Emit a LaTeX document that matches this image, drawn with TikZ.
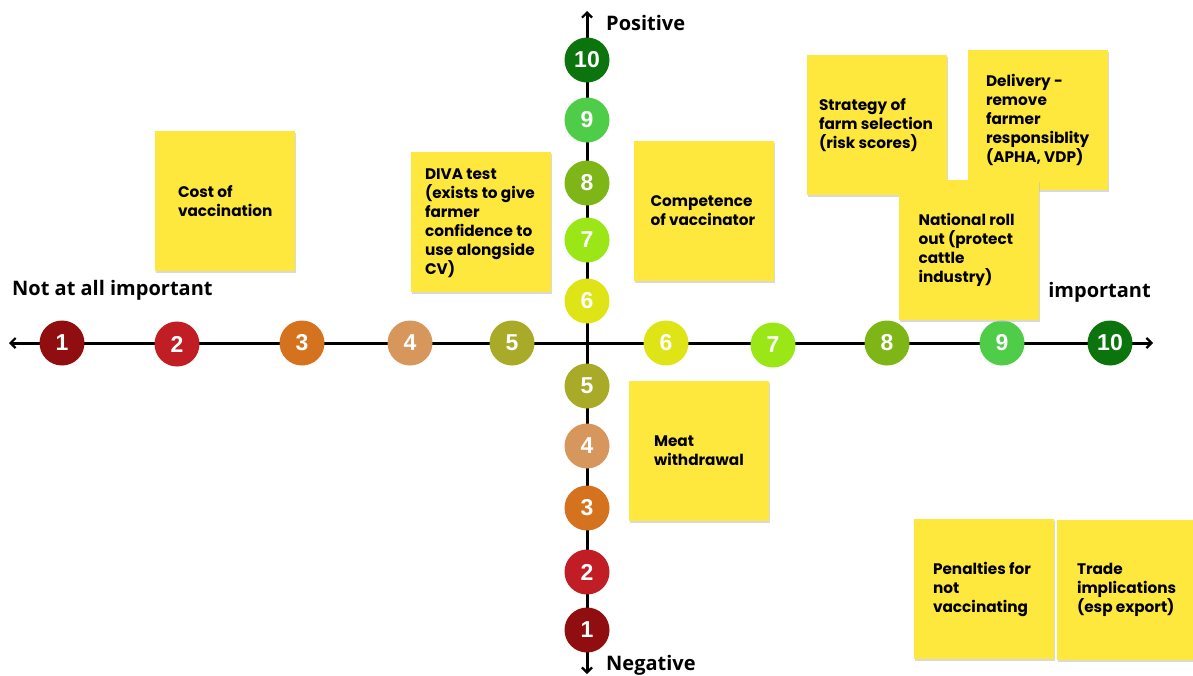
\documentclass[tikz,border=0pt]{standalone}
\usepackage{fontspec}
\setmainfont{Liberation Sans}
\newfontfamily\notefont{Poppins}
\newfontfamily\labfont{Open Sans}
\usetikzlibrary{arrows.meta,shadows}
\definecolor{c1}{RGB}{145,14,16}
\definecolor{c2}{RGB}{192,30,36}
\definecolor{c3}{RGB}{212,114,30}
\definecolor{c4}{RGB}{215,150,92}
\definecolor{c5}{RGB}{168,170,40}
\definecolor{c6}{RGB}{222,228,22}
\definecolor{c7}{RGB}{155,230,22}
\definecolor{c8}{RGB}{125,182,22}
\definecolor{c9}{RGB}{80,205,72}
\definecolor{c10}{RGB}{12,116,12}
\definecolor{notey}{RGB}{255,232,62}
\tikzset{
  axis/.style={line width=3pt,{Straight Barb[length=5pt,width=10pt,line width=2.2pt]}-{Straight Barb[length=5pt,width=10pt,line width=2.2pt]}},
  dot/.style={circle,minimum size=45pt,inner sep=0pt,text=white,font=\bfseries\fontsize{23}{23}\selectfont},
  note/.style={fill=notey,minimum width=140pt,minimum height=140pt,inner sep=0pt,
    drop shadow={shadow xshift=1pt,shadow yshift=-1.5pt,fill=black!25,opacity=0.6}},
  notetext/.style={anchor=west,inner sep=0pt,align=left,
    font=\notefont\bfseries\fontsize{15.3}{19}\selectfont},
  axlab/.style={font=\labfont\bfseries\fontsize{20}{22}\selectfont,inner sep=0pt}
}
\begin{document}
\begin{tikzpicture}[x=1pt,y=-1pt]
\useasboundingbox (0,0) rectangle (1193,675);
\coordinate (hl) at (9,343);
\coordinate (hr) at (1153,343);
\coordinate (vt) at (587,11);
\coordinate (vb) at (587,674);
\draw[axis] (hl) -- (hr);
\draw[axis] (vb) -- (vt);
% horizontal scale
\node[dot,fill=c1] (h1) at (62,343) {1};
\node[dot,fill=c2] (h2) at (177,344) {2};
\node[dot,fill=c3] (h3) at (302,343) {3};
\node[dot,fill=c4] (h4) at (410,343) {4};
\node[dot,fill=c5] (h5) at (512,343) {5};
\node[dot,fill=c6] (h6) at (666,343) {6};
\node[dot,fill=c7] (h7) at (773,345) {7};
\node[dot,fill=c8] (h8) at (887,343) {8};
\node[dot,fill=c9] (h9) at (1002,343) {9};
\node[dot,fill=c10] (h10) at (1110,343) {10};
% vertical scale
\node[dot,fill=c10] (v10) at (587,60) {10};
\node[dot,fill=c9] (v9) at (587,120) {9};
\node[dot,fill=c8] (v8) at (587,183) {8};
\node[dot,fill=c7] (v7) at (587,240) {7};
\node[dot,fill=c6] (v6) at (587,301) {6};
\node[dot,fill=c5] (v5) at (587,386) {5};
\node[dot,fill=c4] (v4) at (587,446) {4};
\node[dot,fill=c3] (v3) at (587,508) {3};
\node[dot,fill=c2] (v2) at (587,572) {2};
\node[dot,fill=c1] (v1) at (587,630) {1};
% axis labels
\node[axlab,anchor=west] (pos) at (606,23) {Positive};
\node[axlab,anchor=west] (neg) at (606,665) {Negative};
\node[axlab,anchor=west] (nai) at (12,290) {Not at all important};
\node[axlab,anchor=east] (imp) at (1151,292) {important};
% notes
\node[note] (cost) at (225,201) {};
\node[notetext] (costt) at ([xshift=23pt]cost.west) {Cost of\\vaccination};
\node[note] (diva) at (481,222) {};
\node[notetext] (divat) at ([xshift=14pt,yshift=-1pt]diva.west) {DIVA test\\(exists to give\\farmer\\confidence to\\use alongside\\CV)};
\node[note] (comp) at (703.5,211) {};
\node[notetext] (compt) at ([xshift=17pt]comp.west) {Competence\\of vaccinator};
\node[note] (strat) at (877,125) {};
\node[notetext] (stratt) at ([xshift=12pt]strat.west) {Strategy of\\farm selection\\(risk scores)};
\node[note] (deliv) at (1038,120) {};
\node[notetext] (delivt) at ([xshift=18pt]deliv.west) {Delivery -\\remove\\farmer\\responsiblity\\(APHA, VDP)};
\node[note] (nat) at (968.5,250) {};
\node[notetext] (natt) at ([xshift=20pt]nat.west) {National roll\\out (protect\\cattle\\industry)};
\node[note] (meat) at (699,451) {};
\node[notetext] (meatt) at ([xshift=25pt]meat.west) {Meat\\withdrawal};
\node[note] (pen) at (984,589) {};
\node[notetext] (pent) at ([xshift=19pt]pen.west) {Penalties for\\not\\vaccinating};
\node[note] (trade) at (1127,590) {};
\node[notetext] (tradet) at ([xshift=20pt]trade.west) {Trade\\implications\\(esp export)};
\end{tikzpicture}
\end{document}
